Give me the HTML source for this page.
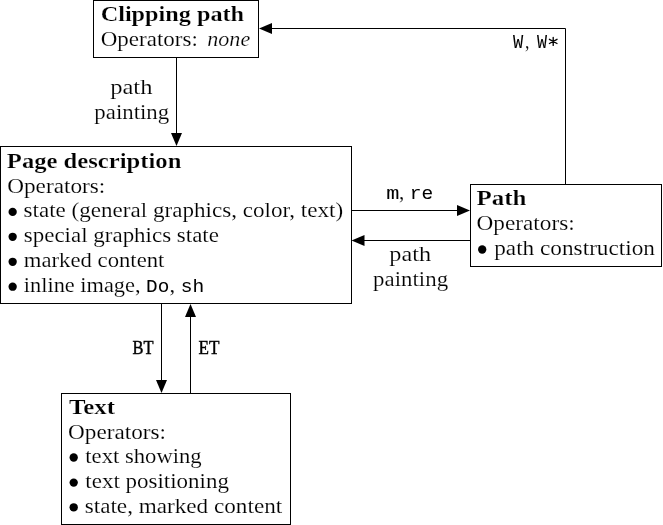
<!DOCTYPE html>
<html><head><meta charset="utf-8"><style>
html,body{margin:0;padding:0;background:#fff;}
svg{display:block;will-change:transform;}

text{font-family:"Liberation Serif",serif;font-size:21.3px;fill:#000;}
text.b{font-weight:bold;stroke:#fff;stroke-width:0.2px;}
text.i{font-style:italic;stroke:#fff;stroke-width:0.2px;}
text.r,text.ri{stroke:#fff;stroke-width:0.15px;}
text.t{font-family:"Liberation Mono",monospace;font-size:19.5px;stroke:#000;stroke-width:0.05px;}
text.tl{font-size:18.3px;}
text.tx{font-size:17.6px;}
text.ts{font-size:19px;stroke:#000;stroke-width:0.45px;}

</style></head><body>
<svg width="663" height="525" viewBox="0 0 663 525">

<g fill="none" stroke="#000" stroke-width="1">
<rect x="93.5" y="0.5" width="165" height="57"/>
<rect x="0.5" y="146.5" width="351" height="157"/>
<rect x="470.5" y="184.5" width="191" height="82"/>
<rect x="61.5" y="393.5" width="229" height="131"/>
<line x1="176.5" y1="57" x2="176.5" y2="134"/>
<line x1="351" y1="210.5" x2="458" y2="210.5"/>
<line x1="470" y1="240.5" x2="364" y2="240.5"/>
<line x1="161.5" y1="303" x2="161.5" y2="381"/>
<line x1="190.5" y1="393" x2="190.5" y2="316"/>
<polyline points="565.5,184 565.5,28.5 271,28.5" stroke-linejoin="miter"/>
<path d="M553.2,37.5V45.4M549.4,39.3L557,43.5M549.4,43.5L557,39.3" stroke-width="1.35" stroke-linecap="round"/>
</g><g fill="#000">
<polygon points="176.50,146.00 171.00,133.00 182.00,133.00"/>
<polygon points="259.00,28.50 272.00,23.00 272.00,34.00"/>
<polygon points="470.00,210.50 457.00,205.00 457.00,216.00"/>
<polygon points="351.50,240.50 364.50,235.00 364.50,246.00"/>
<polygon points="161.50,393.00 156.00,380.00 167.00,380.00"/>
<polygon points="190.50,304.00 185.00,317.00 196.00,317.00"/>
<circle cx="12.65" cy="211.90" r="4.15"/>
<circle cx="12.65" cy="236.80" r="4.15"/>
<circle cx="12.65" cy="261.80" r="4.15"/>
<circle cx="12.65" cy="286.70" r="4.15"/>
<circle cx="482.20" cy="249.50" r="4.15"/>
<circle cx="73.70" cy="457.50" r="4.15"/>
<circle cx="73.70" cy="482.60" r="4.15"/>
<circle cx="73.70" cy="507.30" r="4.15"/>
</g>
<text class="b" x="100.66" y="21.40" textLength="143.43" lengthAdjust="spacingAndGlyphs">Clipping path</text>
<text class="r" x="100.72" y="45.80" textLength="97.12" lengthAdjust="spacingAndGlyphs">Operators:</text>
<text class="i" x="207.26" y="45.80" textLength="42.96" lengthAdjust="spacingAndGlyphs">none</text>
<text class="t" x="513.10" y="47.80" textLength="10.24" lengthAdjust="spacingAndGlyphs">W</text>
<text class="r" x="524.97" y="47.80" textLength="4.44" lengthAdjust="spacingAndGlyphs">,</text>
<text class="t" x="536.90" y="47.80" textLength="10.05" lengthAdjust="spacingAndGlyphs">W</text>
<text class="r" x="110.15" y="94.00" textLength="42.33" lengthAdjust="spacingAndGlyphs">path</text>
<text class="r" x="94.33" y="118.70" textLength="74.84" lengthAdjust="spacingAndGlyphs">painting</text>
<text class="b" x="6.84" y="168.20" textLength="174.53" lengthAdjust="spacingAndGlyphs">Page description</text>
<text class="r" x="7.21" y="192.60" textLength="98.05" lengthAdjust="spacingAndGlyphs">Operators:</text>
<text class="r" x="23.52" y="217.40" textLength="319.56" lengthAdjust="spacingAndGlyphs">state (general graphics, color, text)</text>
<text class="r" x="23.82" y="242.30" textLength="195.11" lengthAdjust="spacingAndGlyphs">special graphics state</text>
<text class="r" x="23.83" y="267.30" textLength="140.53" lengthAdjust="spacingAndGlyphs">marked content</text>
<text class="r" x="23.85" y="292.20" textLength="116.70" lengthAdjust="spacingAndGlyphs">inline image,</text>
<text class="t tl" x="146.14" y="292.20" textLength="23.16" lengthAdjust="spacingAndGlyphs">Do</text>
<text class="r" x="169.53" y="292.20" textLength="5.68" lengthAdjust="spacingAndGlyphs">,</text>
<text class="t tl" x="180.66" y="292.20" textLength="23.46" lengthAdjust="spacingAndGlyphs">sh</text>
<text class="t tx" x="386.36" y="199.00" textLength="13.14" lengthAdjust="spacingAndGlyphs">m</text>
<text class="r" x="399.00" y="199.00" textLength="5.33" lengthAdjust="spacingAndGlyphs">,</text>
<text class="t tx" x="409.78" y="199.00" textLength="23.47" lengthAdjust="spacingAndGlyphs">re</text>
<text class="r" x="389.36" y="260.90" textLength="41.70" lengthAdjust="spacingAndGlyphs">path</text>
<text class="r" x="373.13" y="285.60" textLength="74.95" lengthAdjust="spacingAndGlyphs">painting</text>
<text class="b" x="476.43" y="205.00" textLength="49.99" lengthAdjust="spacingAndGlyphs">Path</text>
<text class="r" x="476.51" y="230.00" textLength="98.16" lengthAdjust="spacingAndGlyphs">Operators:</text>
<text class="r" x="494.21" y="255.00" textLength="160.80" lengthAdjust="spacingAndGlyphs">path construction</text>
<text class="ts" x="132.50" y="354.00" textLength="20.94" lengthAdjust="spacingAndGlyphs">BT</text>
<text class="ts" x="198.50" y="354.00" textLength="20.90" lengthAdjust="spacingAndGlyphs">ET</text>
<text class="b" x="69.10" y="414.20" textLength="45.93" lengthAdjust="spacingAndGlyphs">Text</text>
<text class="r" x="68.11" y="439.00" textLength="97.95" lengthAdjust="spacingAndGlyphs">Operators:</text>
<text class="r" x="85.34" y="463.00" textLength="116.34" lengthAdjust="spacingAndGlyphs">text showing</text>
<text class="r" x="85.32" y="488.10" textLength="143.60" lengthAdjust="spacingAndGlyphs">text positioning</text>
<text class="r" x="84.71" y="512.80" textLength="197.48" lengthAdjust="spacingAndGlyphs">state, marked content</text>
</svg></body></html>
